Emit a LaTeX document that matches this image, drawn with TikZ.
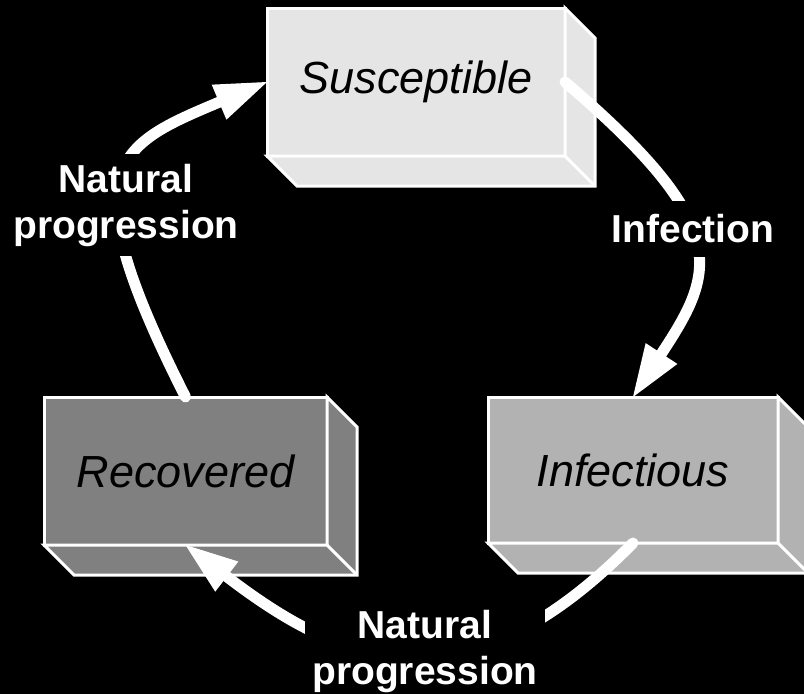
\documentclass[tikz,border=0pt]{standalone}
\usepackage{fontspec}
\setmainfont{Liberation Sans}
\usetikzlibrary{arrows.meta}

\definecolor{susgray}{gray}{0.9}
\definecolor{infgray}{gray}{0.7}
\definecolor{recgray}{gray}{0.5}

\begin{document}
\begin{tikzpicture}[x=1pt, y=-1pt,
  slab/.style={draw=white, line width=3pt, outer sep=0pt, inner sep=0pt,
    minimum height=148pt, font=\itshape\fontsize{45}{54}\selectfont},
  flow/.style={draw=white, line width=11pt, line cap=round,
    -{Triangle[length=52pt, width=38pt, line width=0pt]}},
  tag/.style={fill=black, text=white, align=center, inner xsep=7pt, inner ysep=14pt,
    font=\bfseries\fontsize{39}{46}\selectfont}]
  % Background
  \fill[black] (0,0) rectangle (804,694);
  \useasboundingbox (0,0) rectangle (804,694);

  % Compartments (front faces)
  \node[slab, fill=susgray, minimum width=298pt] (sus) at (416,82) {Susceptible};
  \node[slab, fill=infgray, minimum width=290pt, minimum height=146pt] (inf) at (633,470) {Infectious};
  \node[slab, fill=recgray, minimum width=283pt] (rec) at (185.5,471) {Recovered};

  % Side and bottom faces
  \foreach \n/\c in {sus/susgray, inf/infgray, rec/recgray} {
    \filldraw[fill=\c, draw=white, line width=3pt]
      (\n.north east) -- ++(30,30) -- ([shift={(30,30)}]\n.south east)
      -- ([shift={(30,30)}]\n.south west) -- (\n.south west) -- (\n.south east) -- cycle;
    \draw[white, line width=3pt] (\n.south east) -- ++(30,30);
  }

  % Transitions
  \draw[flow] (sus.east) .. controls +(170,145) and +(82,-125) .. (inf.north);
  \draw[flow] (inf.south) .. controls +(-168,171) and +(158,121) .. (rec.south);
  \draw[flow] (rec.north) .. controls +(-117,-231) and +(-152,64) .. (sus.west);

  % Labels
  \node[tag] (infection) at (693,229) {Infection};
  \node[tag] (recovery) at (425,651) {Natural\\progression};
  \node[tag, inner ysep=10pt] (waning) at (126,205) {Natural\\progression};
\end{tikzpicture}
\end{document}
